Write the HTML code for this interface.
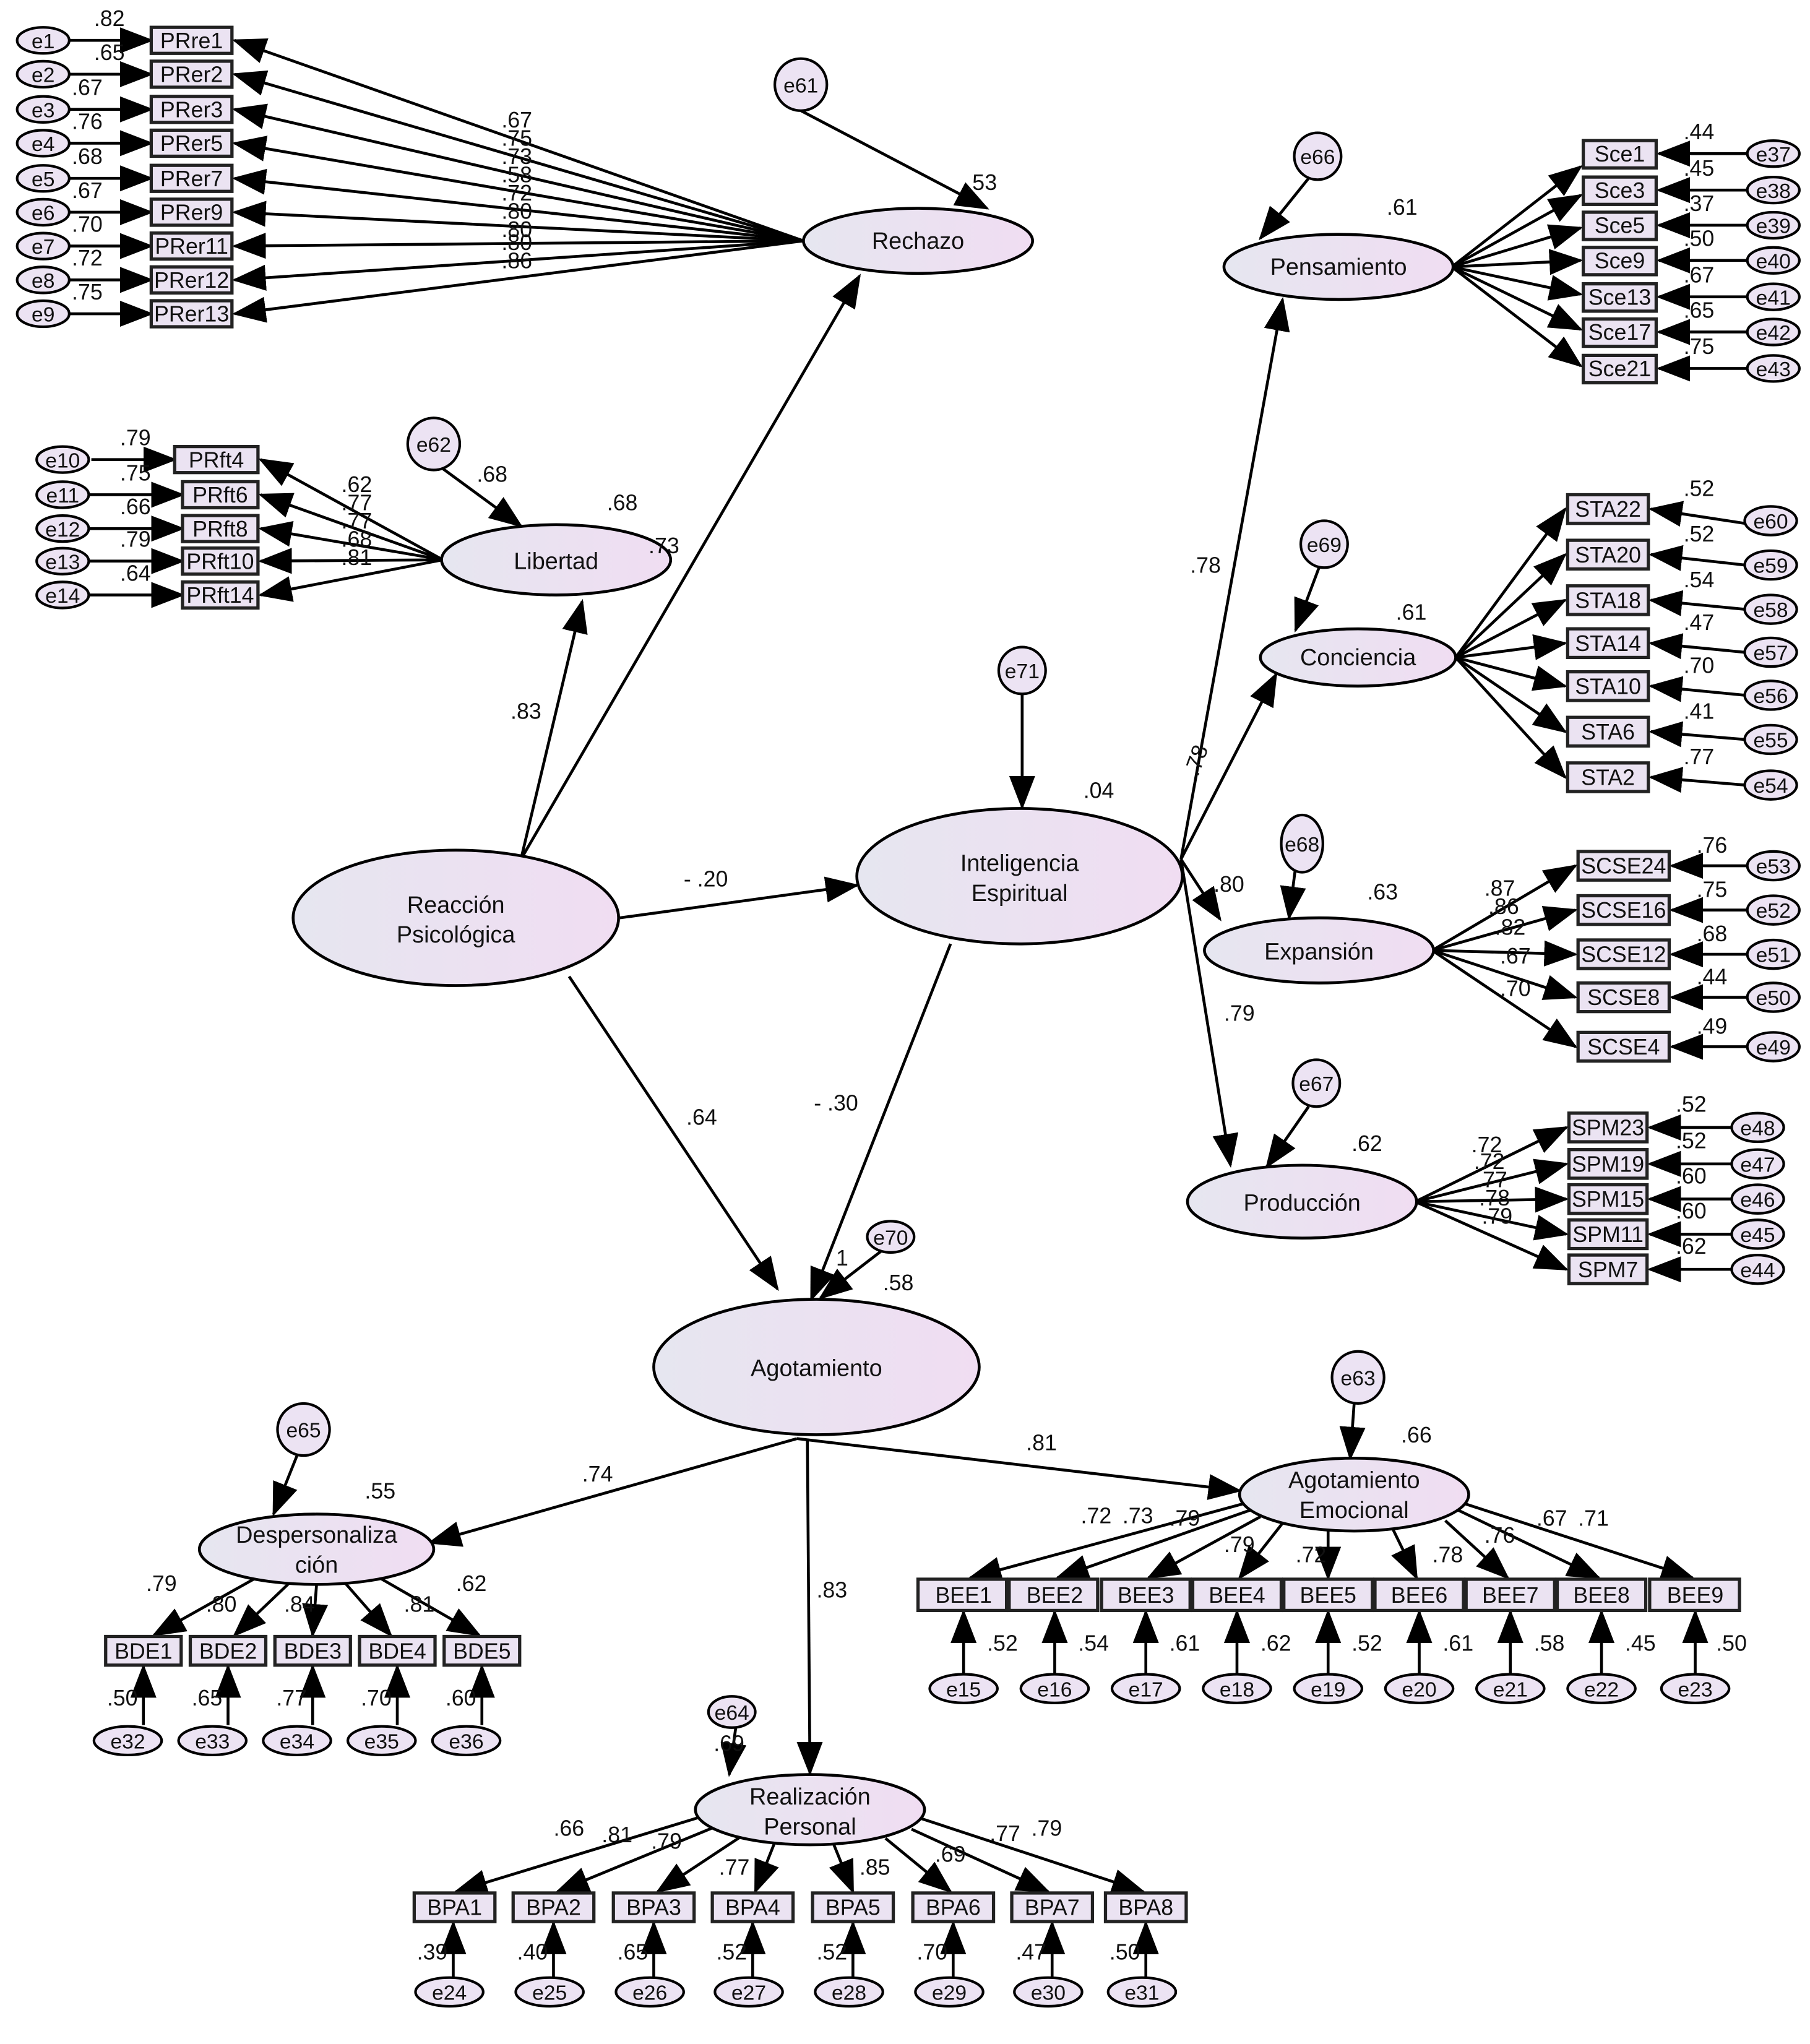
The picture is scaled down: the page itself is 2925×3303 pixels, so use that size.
<!DOCTYPE html>
<html><head><meta charset="utf-8"><style>
html,body{margin:0;padding:0;background:#fff}
svg{display:block}
text{font-family:"Liberation Sans",Arial,sans-serif;fill:#111}
.l{stroke:#000;stroke-width:2.2;fill:none;marker-end:url(#a)}
.e{fill:#ece3f3;stroke:#000;stroke-width:2}
.b{fill:#ebe3f2;stroke:#222;stroke-width:2.5}
.bt{font-size:17px;text-anchor:middle}
.lt{font-size:18px;text-anchor:middle}
.n{font-size:17px}
.et{font-size:16px;text-anchor:middle}
</style></head><body>
<svg width="2925" height="3303" viewBox="0 0 1390 1570" xmlns="http://www.w3.org/2000/svg">
<defs>
<marker id="a" markerUnits="userSpaceOnUse" markerWidth="26" markerHeight="20" refX="24" refY="10" orient="auto"><path d="M0,0 L26,10 L0,20 z" fill="#000"/></marker>
<linearGradient id="g" x1="0" x2="1"><stop offset="0" stop-color="#e6e6f0"/><stop offset="1" stop-color="#f0ddf2"/></linearGradient>
</defs>
<rect width="1390" height="1570" fill="#fff"/>

<!-- structural paths -->
<path class="l" d="M400,660 L447,462"/>
<path class="l" d="M400,660 L660,212"/>
<path class="l" d="M476,705 L658,680"/>
<path class="l" d="M437,750 L597,990"/>
<path class="l" d="M730,725 L623,998"/>
<path class="l" d="M907,660 L985,230"/>
<path class="l" d="M907,660 L980,518"/>
<path class="l" d="M907,660 L937,706"/>
<path class="l" d="M907,660 L945,895"/>
<path class="l" d="M612,1105 L330,1185"/>
<path class="l" d="M612,1105 L952,1145"/>
<path class="l" d="M620,1105 L622,1362"/>
<!-- error to latent -->
<path class="l" d="M615,85 L758,160"/>
<path class="l" d="M340,360 L400,404"/>
<path class="l" d="M1005,137 L968,183"/>
<path class="l" d="M1013,436 L995,484"/>
<path class="l" d="M785,533 L785,620"/>
<path class="l" d="M995,666 L990,705"/>
<path class="l" d="M1005,850 L973,896"/>
<path class="l" d="M678,960 L630,997"/>
<path class="l" d="M1040,1078 L1037,1120"/>
<path class="l" d="M228,1118 L210,1163"/>
<path class="l" d="M565,1327 L560,1363"/>

<!-- PRre fan -->
<g>
<path class="l" d="M617,185 L180,31"/><path class="l" d="M617,185 L180,57"/><path class="l" d="M617,185 L180,84"/>
<path class="l" d="M617,185 L180,110"/><path class="l" d="M617,185 L180,137"/><path class="l" d="M617,185 L180,163"/>
<path class="l" d="M617,185 L180,189"/><path class="l" d="M617,185 L180,215"/><path class="l" d="M617,185 L180,241"/>
</g>
<g class="n"><text x="385" y="98">.67</text><text x="385" y="112">.75</text><text x="385" y="126">.73</text><text x="385" y="140">.58</text><text x="385" y="154">.72</text><text x="385" y="168">.80</text><text x="385" y="182">.80</text><text x="385" y="192">.80</text><text x="385" y="206">.86</text></g>
<!-- e1-e9 -->
<g>
<path class="l" d="M53,31 L116,31"/><path class="l" d="M53,57 L116,57"/><path class="l" d="M53,84 L116,84"/><path class="l" d="M53,110 L116,110"/><path class="l" d="M53,137 L116,137"/><path class="l" d="M53,163 L116,163"/><path class="l" d="M53,189 L116,189"/><path class="l" d="M53,215 L116,215"/><path class="l" d="M53,241 L116,241"/>
<ellipse class="e" cx="33" cy="31" rx="20" ry="10"/><ellipse class="e" cx="33" cy="57" rx="20" ry="10"/><ellipse class="e" cx="33" cy="84" rx="20" ry="10"/><ellipse class="e" cx="33" cy="110" rx="20" ry="10"/><ellipse class="e" cx="33" cy="137" rx="20" ry="10"/><ellipse class="e" cx="33" cy="163" rx="20" ry="10"/><ellipse class="e" cx="33" cy="189" rx="20" ry="10"/><ellipse class="e" cx="33" cy="215" rx="20" ry="10"/><ellipse class="e" cx="33" cy="241" rx="20" ry="10"/>
<g class="et"><text x="33" y="37">e1</text><text x="33" y="63">e2</text><text x="33" y="90">e3</text><text x="33" y="116">e4</text><text x="33" y="143">e5</text><text x="33" y="169">e6</text><text x="33" y="195">e7</text><text x="33" y="221">e8</text><text x="33" y="247">e9</text></g>
<g class="n"><text x="72" y="20">.82</text><text x="72" y="46">.65</text><text x="55" y="73">.67</text><text x="55" y="99">.76</text><text x="55" y="126">.68</text><text x="55" y="152">.67</text><text x="55" y="178">.70</text><text x="55" y="204">.72</text><text x="55" y="230">.75</text></g>
<rect class="b" x="116" y="21" width="62" height="20"/><rect class="b" x="116" y="47" width="62" height="20"/><rect class="b" x="116" y="74" width="62" height="20"/><rect class="b" x="116" y="100" width="62" height="20"/><rect class="b" x="116" y="127" width="62" height="20"/><rect class="b" x="116" y="153" width="62" height="20"/><rect class="b" x="116" y="179" width="62" height="20"/><rect class="b" x="116" y="205" width="62" height="20"/><rect class="b" x="116" y="231" width="62" height="20"/>
<g class="bt"><text x="147" y="37">PRre1</text><text x="147" y="63">PRer2</text><text x="147" y="90">PRer3</text><text x="147" y="116">PRer5</text><text x="147" y="143">PRer7</text><text x="147" y="169">PRer9</text><text x="147" y="195">PRer11</text><text x="147" y="221">PRer12</text><text x="147" y="247">PRer13</text></g>
</g>

<!-- Libertad fan -->
<g>
<path class="l" d="M340,430 L200,353"/><path class="l" d="M340,430 L200,380"/><path class="l" d="M340,430 L200,406"/><path class="l" d="M340,430 L200,431"/><path class="l" d="M340,430 L200,457"/>
<path class="l" d="M70,353 L134,353"/><path class="l" d="M68,380 L140,380"/><path class="l" d="M68,406 L140,406"/><path class="l" d="M68,431 L140,431"/><path class="l" d="M68,457 L140,457"/>
<ellipse class="e" cx="48" cy="353" rx="20" ry="10"/><ellipse class="e" cx="48" cy="380" rx="20" ry="10"/><ellipse class="e" cx="48" cy="406" rx="20" ry="10"/><ellipse class="e" cx="48" cy="431" rx="20" ry="10"/><ellipse class="e" cx="48" cy="457" rx="20" ry="10"/>
<g class="et"><text x="48" y="359">e10</text><text x="48" y="386">e11</text><text x="48" y="412">e12</text><text x="48" y="437">e13</text><text x="48" y="463">e14</text></g>
<g class="n"><text x="92" y="342">.79</text><text x="92" y="369">.75</text><text x="92" y="395">.66</text><text x="92" y="420">.79</text><text x="92" y="446">.64</text>
<text x="262" y="378">.62</text><text x="262" y="392">.77</text><text x="262" y="406">.77</text><text x="262" y="420">.68</text><text x="262" y="434">.81</text></g>
<rect class="b" x="134" y="343" width="64" height="20"/><rect class="b" x="140" y="370" width="58" height="20"/><rect class="b" x="140" y="396" width="58" height="20"/><rect class="b" x="140" y="421" width="58" height="20"/><rect class="b" x="140" y="447" width="58" height="20"/>
<g class="bt"><text x="166" y="359">PRft4</text><text x="169" y="386">PRft6</text><text x="169" y="412">PRft8</text><text x="169" y="437">PRft10</text><text x="169" y="463">PRft14</text></g>
</g>

<!-- Pensamiento fan -->
<g>
<path class="l" d="M1115,205 L1214,128"/><path class="l" d="M1115,205 L1214,150"/><path class="l" d="M1115,205 L1214,175"/><path class="l" d="M1115,205 L1214,200"/><path class="l" d="M1115,205 L1214,226"/><path class="l" d="M1115,205 L1214,253"/><path class="l" d="M1115,205 L1214,281"/>
<path class="l" d="M1342,118 L1274,118"/><path class="l" d="M1342,146 L1274,146"/><path class="l" d="M1342,173 L1274,173"/><path class="l" d="M1342,200 L1274,200"/><path class="l" d="M1342,228 L1274,228"/><path class="l" d="M1342,255 L1274,255"/><path class="l" d="M1342,283 L1274,283"/>
<ellipse class="e" cx="1362" cy="118" rx="20" ry="10"/><ellipse class="e" cx="1362" cy="146" rx="20" ry="10"/><ellipse class="e" cx="1362" cy="173" rx="20" ry="10"/><ellipse class="e" cx="1362" cy="200" rx="20" ry="10"/><ellipse class="e" cx="1362" cy="228" rx="20" ry="10"/><ellipse class="e" cx="1362" cy="255" rx="20" ry="10"/><ellipse class="e" cx="1362" cy="283" rx="20" ry="10"/>
<g class="et"><text x="1362" y="124">e37</text><text x="1362" y="152">e38</text><text x="1362" y="179">e39</text><text x="1362" y="206">e40</text><text x="1362" y="234">e41</text><text x="1362" y="261">e42</text><text x="1362" y="289">e43</text></g>
<g class="n"><text x="1293" y="107">.44</text><text x="1293" y="135">.45</text><text x="1293" y="162">.37</text><text x="1293" y="189">.50</text><text x="1293" y="217">.67</text><text x="1293" y="244">.65</text><text x="1293" y="272">.75</text></g>
<rect class="b" x="1216" y="108" width="56" height="21"/><rect class="b" x="1216" y="136" width="56" height="21"/><rect class="b" x="1216" y="163" width="56" height="21"/><rect class="b" x="1216" y="190" width="56" height="21"/><rect class="b" x="1216" y="218" width="56" height="21"/><rect class="b" x="1216" y="245" width="56" height="21"/><rect class="b" x="1216" y="273" width="56" height="21"/>
<g class="bt"><text x="1244" y="124">Sce1</text><text x="1244" y="152">Sce3</text><text x="1244" y="179">Sce5</text><text x="1244" y="206">Sce9</text><text x="1244" y="234">Sce13</text><text x="1244" y="261">Sce17</text><text x="1244" y="289">Sce21</text></g>
</g>

<!-- Conciencia fan -->
<g>
<path class="l" d="M1118,505 L1202,391"/><path class="l" d="M1118,505 L1202,426"/><path class="l" d="M1118,505 L1202,461"/><path class="l" d="M1118,505 L1202,494"/><path class="l" d="M1118,505 L1202,527"/><path class="l" d="M1118,505 L1202,562"/><path class="l" d="M1118,505 L1202,597"/>
<path class="l" d="M1340,402 L1268,391"/><path class="l" d="M1340,434 L1268,426"/><path class="l" d="M1340,468 L1268,461"/><path class="l" d="M1340,501 L1268,494"/><path class="l" d="M1340,534 L1268,527"/><path class="l" d="M1340,568 L1268,562"/><path class="l" d="M1340,603 L1268,597"/>
<ellipse class="e" cx="1360" cy="400" rx="20" ry="11"/><ellipse class="e" cx="1360" cy="434" rx="20" ry="11"/><ellipse class="e" cx="1360" cy="468" rx="20" ry="11"/><ellipse class="e" cx="1360" cy="501" rx="20" ry="11"/><ellipse class="e" cx="1360" cy="534" rx="20" ry="11"/><ellipse class="e" cx="1360" cy="568" rx="20" ry="11"/><ellipse class="e" cx="1360" cy="603" rx="20" ry="11"/>
<g class="et"><text x="1360" y="406">e60</text><text x="1360" y="440">e59</text><text x="1360" y="474">e58</text><text x="1360" y="507">e57</text><text x="1360" y="540">e56</text><text x="1360" y="574">e55</text><text x="1360" y="609">e54</text></g>
<g class="n"><text x="1293" y="381">.52</text><text x="1293" y="416">.52</text><text x="1293" y="451">.54</text><text x="1293" y="484">.47</text><text x="1293" y="517">.70</text><text x="1293" y="552">.41</text><text x="1293" y="587">.77</text></g>
<rect class="b" x="1204" y="380" width="62" height="22"/><rect class="b" x="1204" y="415" width="62" height="22"/><rect class="b" x="1204" y="450" width="62" height="22"/><rect class="b" x="1204" y="483" width="62" height="22"/><rect class="b" x="1204" y="516" width="62" height="22"/><rect class="b" x="1204" y="551" width="62" height="22"/><rect class="b" x="1204" y="586" width="62" height="22"/>
<g class="bt"><text x="1235" y="397">STA22</text><text x="1235" y="432">STA20</text><text x="1235" y="467">STA18</text><text x="1235" y="500">STA14</text><text x="1235" y="533">STA10</text><text x="1235" y="568">STA6</text><text x="1235" y="603">STA2</text></g>
</g>

<!-- Expansion fan -->
<g>
<path class="l" d="M1100,730 L1210,665"/><path class="l" d="M1100,730 L1210,699"/><path class="l" d="M1100,730 L1210,733"/><path class="l" d="M1100,730 L1210,766"/><path class="l" d="M1100,730 L1210,804"/>
<path class="l" d="M1342,665 L1284,665"/><path class="l" d="M1342,699 L1284,699"/><path class="l" d="M1342,733 L1284,733"/><path class="l" d="M1342,766 L1284,766"/><path class="l" d="M1342,804 L1284,804"/>
<ellipse class="e" cx="1362" cy="665" rx="20" ry="11"/><ellipse class="e" cx="1362" cy="699" rx="20" ry="11"/><ellipse class="e" cx="1362" cy="733" rx="20" ry="11"/><ellipse class="e" cx="1362" cy="766" rx="20" ry="11"/><ellipse class="e" cx="1362" cy="804" rx="20" ry="11"/>
<g class="et"><text x="1362" y="671">e53</text><text x="1362" y="705">e52</text><text x="1362" y="739">e51</text><text x="1362" y="772">e50</text><text x="1362" y="810">e49</text></g>
<g class="n"><text x="1303" y="655">.76</text><text x="1303" y="689">.75</text><text x="1303" y="723">.68</text><text x="1303" y="756">.44</text><text x="1303" y="794">.49</text>
<text x="1140" y="688">.87</text><text x="1143" y="702">.86</text><text x="1148" y="718">.82</text><text x="1152" y="740">.67</text><text x="1152" y="765">.70</text></g>
<rect class="b" x="1212" y="654" width="70" height="22"/><rect class="b" x="1212" y="688" width="70" height="22"/><rect class="b" x="1212" y="722" width="70" height="22"/><rect class="b" x="1212" y="755" width="70" height="22"/><rect class="b" x="1212" y="793" width="70" height="22"/>
<g class="bt"><text x="1247" y="671">SCSE24</text><text x="1247" y="705">SCSE16</text><text x="1247" y="739">SCSE12</text><text x="1247" y="772">SCSE8</text><text x="1247" y="810">SCSE4</text></g>
</g>

<!-- Produccion fan -->
<g>
<path class="l" d="M1087,923 L1203,866"/><path class="l" d="M1087,923 L1203,894"/><path class="l" d="M1087,923 L1203,921"/><path class="l" d="M1087,923 L1203,948"/><path class="l" d="M1087,923 L1203,975"/>
<path class="l" d="M1330,866 L1267,866"/><path class="l" d="M1330,894 L1267,894"/><path class="l" d="M1330,921 L1267,921"/><path class="l" d="M1330,948 L1267,948"/><path class="l" d="M1330,975 L1267,975"/>
<ellipse class="e" cx="1350" cy="866" rx="20" ry="11"/><ellipse class="e" cx="1350" cy="894" rx="20" ry="11"/><ellipse class="e" cx="1350" cy="921" rx="20" ry="11"/><ellipse class="e" cx="1350" cy="948" rx="20" ry="11"/><ellipse class="e" cx="1350" cy="975" rx="20" ry="11"/>
<g class="et"><text x="1350" y="872">e48</text><text x="1350" y="900">e47</text><text x="1350" y="927">e46</text><text x="1350" y="954">e45</text><text x="1350" y="981">e44</text></g>
<g class="n"><text x="1287" y="854">.52</text><text x="1287" y="882">.52</text><text x="1287" y="909">.60</text><text x="1287" y="936">.60</text><text x="1287" y="963">.62</text>
<text x="1130" y="885">.72</text><text x="1132" y="898">.72</text><text x="1134" y="912">.77</text><text x="1136" y="926">.78</text><text x="1138" y="940">.79</text></g>
<rect class="b" x="1205" y="855" width="60" height="22"/><rect class="b" x="1205" y="883" width="60" height="22"/><rect class="b" x="1205" y="910" width="60" height="22"/><rect class="b" x="1205" y="937" width="60" height="22"/><rect class="b" x="1205" y="964" width="60" height="22"/>
<g class="bt"><text x="1235" y="872">SPM23</text><text x="1235" y="900">SPM19</text><text x="1235" y="927">SPM15</text><text x="1235" y="954">SPM11</text><text x="1235" y="981">SPM7</text></g>
</g>

<!-- Despersonalizacion -->
<g>
<path class="l" d="M200,1210 L118,1256"/><path class="l" d="M222,1216 L180,1256"/><path class="l" d="M243,1217 L240,1256"/><path class="l" d="M265,1216 L300,1256"/><path class="l" d="M288,1210 L368,1256"/>
<path class="l" d="M110,1325 L110,1280"/><path class="l" d="M175,1325 L175,1280"/><path class="l" d="M240,1325 L240,1280"/><path class="l" d="M305,1325 L305,1280"/><path class="l" d="M370,1325 L370,1280"/>
<ellipse class="e" cx="98" cy="1337" rx="26" ry="11"/><ellipse class="e" cx="163" cy="1337" rx="26" ry="11"/><ellipse class="e" cx="228" cy="1337" rx="26" ry="11"/><ellipse class="e" cx="293" cy="1337" rx="26" ry="11"/><ellipse class="e" cx="358" cy="1337" rx="26" ry="11"/>
<g class="et"><text x="98" y="1343">e32</text><text x="163" y="1343">e33</text><text x="228" y="1343">e34</text><text x="293" y="1343">e35</text><text x="358" y="1343">e36</text></g>
<g class="n"><text x="82" y="1310">.50</text><text x="147" y="1310">.65</text><text x="212" y="1310">.77</text><text x="277" y="1310">.70</text><text x="342" y="1310">.60</text>
<text x="112" y="1222">.79</text><text x="158" y="1238">.80</text><text x="218" y="1238">.84</text><text x="310" y="1238">.81</text><text x="350" y="1222">.62</text></g>
<rect class="b" x="81" y="1257" width="58" height="22"/><rect class="b" x="146" y="1257" width="58" height="22"/><rect class="b" x="211" y="1257" width="58" height="22"/><rect class="b" x="276" y="1257" width="58" height="22"/><rect class="b" x="341" y="1257" width="58" height="22"/>
<g class="bt"><text x="110" y="1274">BDE1</text><text x="175" y="1274">BDE2</text><text x="240" y="1274">BDE3</text><text x="305" y="1274">BDE4</text><text x="370" y="1274">BDE5</text></g>
</g>

<!-- Agotamiento Emocional -->
<g>
<path class="l" d="M955,1155 L745,1212"/><path class="l" d="M960,1160 L812,1212"/><path class="l" d="M968,1165 L882,1212"/><path class="l" d="M985,1170 L952,1212"/><path class="l" d="M1020,1175 L1020,1212"/><path class="l" d="M1070,1175 L1088,1212"/><path class="l" d="M1110,1168 L1158,1212"/><path class="l" d="M1120,1160 L1228,1212"/><path class="l" d="M1125,1155 L1300,1212"/>
<path class="l" d="M740,1286 L740,1238"/><path class="l" d="M810,1286 L810,1238"/><path class="l" d="M880,1286 L880,1238"/><path class="l" d="M950,1286 L950,1238"/><path class="l" d="M1020,1286 L1020,1238"/><path class="l" d="M1090,1286 L1090,1238"/><path class="l" d="M1160,1286 L1160,1238"/><path class="l" d="M1230,1286 L1230,1238"/><path class="l" d="M1302,1286 L1302,1238"/>
<ellipse class="e" cx="740" cy="1297" rx="26" ry="11"/><ellipse class="e" cx="810" cy="1297" rx="26" ry="11"/><ellipse class="e" cx="880" cy="1297" rx="26" ry="11"/><ellipse class="e" cx="950" cy="1297" rx="26" ry="11"/><ellipse class="e" cx="1020" cy="1297" rx="26" ry="11"/><ellipse class="e" cx="1090" cy="1297" rx="26" ry="11"/><ellipse class="e" cx="1160" cy="1297" rx="26" ry="11"/><ellipse class="e" cx="1230" cy="1297" rx="26" ry="11"/><ellipse class="e" cx="1302" cy="1297" rx="26" ry="11"/>
<g class="et"><text x="740" y="1303">e15</text><text x="810" y="1303">e16</text><text x="880" y="1303">e17</text><text x="950" y="1303">e18</text><text x="1020" y="1303">e19</text><text x="1090" y="1303">e20</text><text x="1160" y="1303">e21</text><text x="1230" y="1303">e22</text><text x="1302" y="1303">e23</text></g>
<g class="n"><text x="758" y="1268">.52</text><text x="828" y="1268">.54</text><text x="898" y="1268">.61</text><text x="968" y="1268">.62</text><text x="1038" y="1268">.52</text><text x="1108" y="1268">.61</text><text x="1178" y="1268">.58</text><text x="1248" y="1268">.45</text><text x="1318" y="1268">.50</text>
<text x="830" y="1170">.72</text><text x="862" y="1170">.73</text><text x="898" y="1172">.79</text><text x="940" y="1192">.79</text><text x="995" y="1200">.72</text><text x="1100" y="1200">.78</text><text x="1140" y="1185">.76</text><text x="1180" y="1172">.67</text><text x="1212" y="1172">.71</text></g>
<rect class="b" x="705" y="1213" width="68" height="24"/><rect class="b" x="775" y="1213" width="68" height="24"/><rect class="b" x="846" y="1213" width="68" height="24"/><rect class="b" x="916" y="1213" width="68" height="24"/><rect class="b" x="986" y="1213" width="68" height="24"/><rect class="b" x="1056" y="1213" width="68" height="24"/><rect class="b" x="1126" y="1213" width="68" height="24"/><rect class="b" x="1196" y="1213" width="68" height="24"/><rect class="b" x="1267" y="1213" width="69" height="24"/>
<g class="bt"><text x="740" y="1231">BEE1</text><text x="810" y="1231">BEE2</text><text x="880" y="1231">BEE3</text><text x="950" y="1231">BEE4</text><text x="1020" y="1231">BEE5</text><text x="1090" y="1231">BEE6</text><text x="1160" y="1231">BEE7</text><text x="1230" y="1231">BEE8</text><text x="1302" y="1231">BEE9</text></g>
</g>

<!-- Realizacion Personal -->
<g>
<path class="l" d="M540,1395 L350,1453"/><path class="l" d="M552,1402 L428,1453"/><path class="l" d="M570,1410 L505,1453"/><path class="l" d="M595,1415 L580,1453"/><path class="l" d="M640,1416 L655,1453"/><path class="l" d="M680,1412 L730,1453"/><path class="l" d="M700,1405 L805,1453"/><path class="l" d="M708,1397 L878,1453"/>
<path class="l" d="M348,1520 L348,1477"/><path class="l" d="M425,1520 L425,1477"/><path class="l" d="M502,1520 L502,1477"/><path class="l" d="M578,1520 L578,1477"/><path class="l" d="M655,1520 L655,1477"/><path class="l" d="M732,1520 L732,1477"/><path class="l" d="M808,1520 L808,1477"/><path class="l" d="M880,1520 L880,1477"/>
<ellipse class="e" cx="345" cy="1530" rx="26" ry="11"/><ellipse class="e" cx="422" cy="1530" rx="26" ry="11"/><ellipse class="e" cx="499" cy="1530" rx="26" ry="11"/><ellipse class="e" cx="575" cy="1530" rx="26" ry="11"/><ellipse class="e" cx="652" cy="1530" rx="26" ry="11"/><ellipse class="e" cx="729" cy="1530" rx="26" ry="11"/><ellipse class="e" cx="805" cy="1530" rx="26" ry="11"/><ellipse class="e" cx="877" cy="1530" rx="26" ry="11"/>
<g class="et"><text x="345" y="1536">e24</text><text x="422" y="1536">e25</text><text x="499" y="1536">e26</text><text x="575" y="1536">e27</text><text x="652" y="1536">e28</text><text x="729" y="1536">e29</text><text x="805" y="1536">e30</text><text x="877" y="1536">e31</text></g>
<g class="n"><text x="320" y="1505">.39</text><text x="397" y="1505">.40</text><text x="474" y="1505">.65</text><text x="550" y="1505">.52</text><text x="627" y="1505">.52</text><text x="704" y="1505">.70</text><text x="780" y="1505">.47</text><text x="852" y="1505">.50</text>
<text x="425" y="1410">.66</text><text x="462" y="1415">.81</text><text x="500" y="1420">.79</text><text x="552" y="1440">.77</text><text x="660" y="1440">.85</text><text x="718" y="1430">.69</text><text x="760" y="1414">.77</text><text x="792" y="1410">.79</text>
<text x="548" y="1345">.69</text></g>
<rect class="b" x="318" y="1454" width="62" height="22"/><rect class="b" x="394" y="1454" width="62" height="22"/><rect class="b" x="471" y="1454" width="62" height="22"/><rect class="b" x="547" y="1454" width="62" height="22"/><rect class="b" x="624" y="1454" width="62" height="22"/><rect class="b" x="701" y="1454" width="62" height="22"/><rect class="b" x="777" y="1454" width="62" height="22"/><rect class="b" x="849" y="1454" width="62" height="22"/>
<g class="bt"><text x="349" y="1471">BPA1</text><text x="425" y="1471">BPA2</text><text x="502" y="1471">BPA3</text><text x="578" y="1471">BPA4</text><text x="655" y="1471">BPA5</text><text x="732" y="1471">BPA6</text><text x="808" y="1471">BPA7</text><text x="880" y="1471">BPA8</text></g>
</g>

<!-- latent ellipses -->
<g fill="url(#g)" stroke="#000" stroke-width="2.2">
<ellipse cx="705" cy="185" rx="88" ry="25"/>
<ellipse cx="427" cy="430" rx="88" ry="27"/>
<ellipse cx="350" cy="705" rx="125" ry="52"/>
<ellipse cx="783" cy="673" rx="125" ry="52"/>
<ellipse cx="627" cy="1050" rx="125" ry="52"/>
<ellipse cx="1028" cy="205" rx="88" ry="25"/>
<ellipse cx="1043" cy="505" rx="75" ry="22"/>
<ellipse cx="1013" cy="730" rx="88" ry="25"/>
<ellipse cx="1000" cy="923" rx="88" ry="28"/>
<ellipse cx="243" cy="1190" rx="90" ry="27"/>
<ellipse cx="1040" cy="1148" rx="88" ry="28"/>
<ellipse cx="622" cy="1390" rx="88" ry="27"/>
</g>
<g class="lt">
<text x="705" y="191">Rechazo</text>
<text x="427" y="437">Libertad</text>
<text x="350" y="701">Reacción</text><text x="350" y="724">Psicológica</text>
<text x="783" y="669">Inteligencia</text><text x="783" y="692">Espiritual</text>
<text x="627" y="1057">Agotamiento</text>
<text x="1028" y="211">Pensamiento</text>
<text x="1043" y="511">Conciencia</text>
<text x="1013" y="737">Expansión</text>
<text x="1000" y="930">Producción</text>
<text x="243" y="1185">Despersonaliza</text><text x="243" y="1208">ción</text>
<text x="1040" y="1143">Agotamiento</text><text x="1040" y="1166">Emocional</text>
<text x="622" y="1386">Realización</text><text x="622" y="1409">Personal</text>
</g>

<!-- disturbance errors -->
<g>
<circle class="e" cx="615" cy="65" r="20"/><circle class="e" cx="333" cy="341" r="20"/><circle class="e" cx="1012" cy="120" r="18"/><circle class="e" cx="1017" cy="418" r="18"/><circle class="e" cx="785" cy="515" r="18"/><ellipse class="e" cx="1000" cy="648" rx="16" ry="22"/><circle class="e" cx="1011" cy="832" r="18"/><ellipse class="e" cx="684" cy="950" rx="18" ry="12"/><circle class="e" cx="1043" cy="1058" r="20"/><circle class="e" cx="233" cy="1098" r="20"/><ellipse class="e" cx="562" cy="1315" rx="18" ry="12"/>
<g class="et"><text x="615" y="71">e61</text><text x="333" y="347">e62</text><text x="1012" y="126">e66</text><text x="1017" y="424">e69</text><text x="785" y="521">e71</text><text x="1000" y="654">e68</text><text x="1011" y="838">e67</text><text x="684" y="956">e70</text><text x="1043" y="1064">e63</text><text x="233" y="1104">e65</text><text x="562" y="1321">e64</text></g>
</g>

<!-- structural labels -->
<g class="n">
<text x="742" y="146">.53</text>
<text x="366" y="370">.68</text><text x="466" y="392">.68</text><text x="498" y="425">.73</text>
<text x="392" y="552">.83</text>
<text x="525" y="681">- .20</text>
<text x="832" y="613">.04</text>
<text x="527" y="864">.64</text>
<text x="625" y="853">- .30</text>
<text x="914" y="440">.78</text>
<text x="920" y="597" transform="rotate(-70 920 597)">.78</text>
<text x="932" y="685">.80</text>
<text x="1050" y="691">.63</text>
<text x="940" y="784">.79</text>
<text x="1038" y="884">.62</text>
<text x="1065" y="165">.61</text>
<text x="1072" y="476">.61</text>
<text x="642" y="972">1</text>
<text x="678" y="991">.58</text>
<text x="447" y="1138">.74</text>
<text x="788" y="1114">.81</text>
<text x="1076" y="1108">.66</text>
<text x="280" y="1151">.55</text>
<text x="627" y="1227">.83</text>
</g>
</svg>
</body></html>
